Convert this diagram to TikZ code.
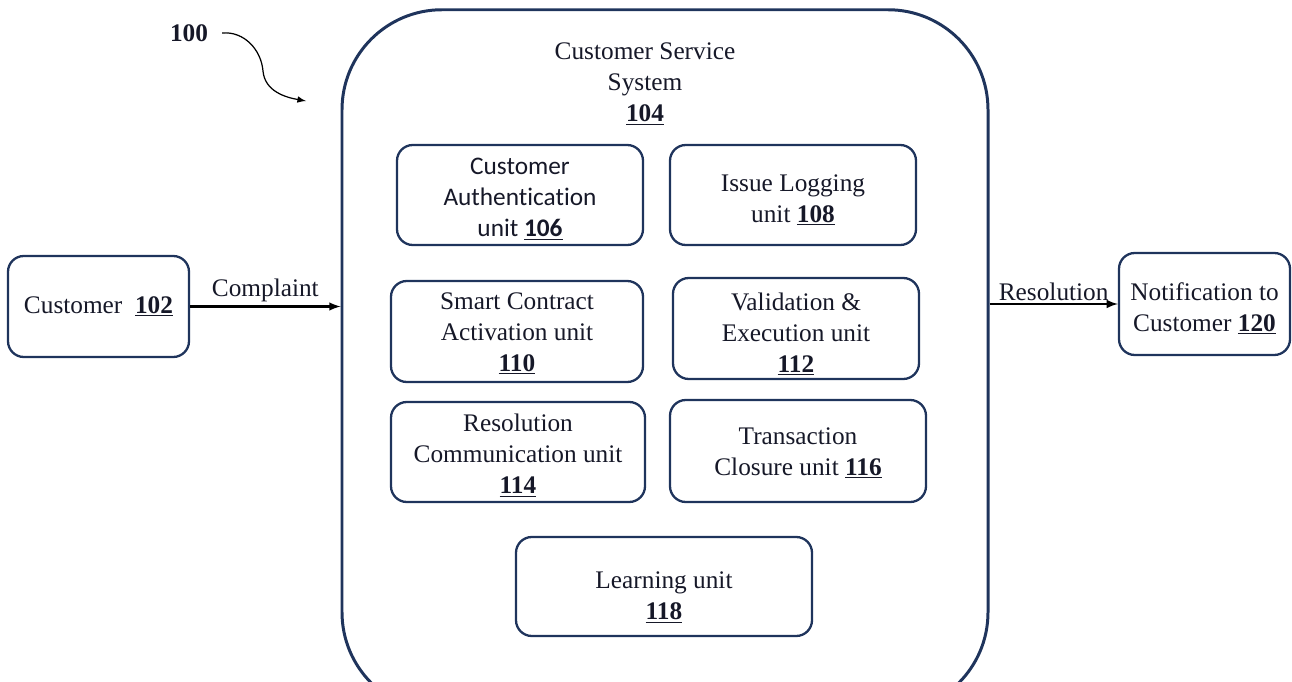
\documentclass[tikz,border=0pt]{standalone}
\usepackage{fontspec}
\setmainfont{Liberation Serif}
\newfontfamily\calibri[Ligatures=NoCommon]{Carlito}
\usepackage{tikz}
\definecolor{navy}{RGB}{31,52,92}
\definecolor{tinta}{RGB}{22,24,40}
\newcommand{\bajar}[1]{\rule{0pt}{#1}}

\begin{document}
\begin{tikzpicture}
\tikzset{unit/.style={draw=navy,line width=1.3pt,rounded corners=9pt,align=center,inner sep=0pt,text=tinta,font=\fontsize{14.4}{17.6}\selectfont}}
\useasboundingbox (0,0) rectangle (25.84,13.62);
\clip (0,0) rectangle (25.84,13.62);

% Sistema principal
\node (104) at (13.30,6.40) [unit,line width=1.7pt,rounded corners=2cm,minimum width=12.92cm,minimum height=14.05cm] {};
\node (titulo) at (12.90,11.94) [align=center,text=tinta,font=\fontsize{14.4}{17.6}\selectfont] {Customer Service\\System\\\underline{\textbf{104}}};
% Unidades
\node (106) at (10.40,9.72) [unit,minimum width=4.92cm,minimum height=2.00cm,font=\calibri\fontsize{14.4}{17.6}\selectfont] {\bajar{13.9pt}Customer\\Authentication\\unit \underline{\textbf{106}}};
\node (108) at (15.86,9.72) [unit,minimum width=4.92cm,minimum height=2.00cm] {\bajar{15.4pt}Issue Logging\\unit \underline{\textbf{108}}};
\node (110) at (10.34,6.99) [unit,minimum width=5.04cm,minimum height=2.02cm] {\bajar{12pt}Smart Contract\\Activation unit\\\underline{\textbf{110}}};
\node (112) at (15.92,7.05) [unit,minimum width=4.92cm,minimum height=2.02cm] {\bajar{16.6pt}Validation \&\\Execution unit\\\underline{\textbf{112}}};
\node (114) at (10.36,4.58) [unit,minimum width=5.08cm,minimum height=2.00cm] {\bajar{14.4pt}Resolution\\Communication unit\\\underline{\textbf{114}}};
\node (116) at (15.96,4.60) [unit,minimum width=5.12cm,minimum height=2.04cm] {\bajar{12pt}Transaction\\Closure unit \underline{\textbf{116}}};
\node (118) at (13.28,1.89) [unit,minimum width=5.92cm,minimum height=1.98cm] {\bajar{22.2pt}Learning unit\\\underline{\textbf{118}}};
% Entrada y salida
\node (102) at (1.97,7.49) [unit,minimum width=3.62cm,minimum height=2.02cm] {\raisebox{1.7pt}{Customer~~\underline{\textbf{102}}}};
\node (120) at (24.09,7.54) [unit,minimum width=3.42cm,minimum height=2.04cm] {\bajar{15.4pt}Notification to\\Customer \underline{\textbf{120}}};
% Etiqueta 100
\node (100) at (3.78,12.96) [text=tinta,font=\fontsize{14.4}{17.6}\selectfont\bfseries] {100};
\coordinate (flecha100) at (6.12,11.60);

\draw[-latex,line width=1.2pt] (102) -- (102 -| 104.west) node[midway,above=-1.5pt,text=tinta,font=\fontsize{14.4}{17.6}\selectfont] {Complaint};
\draw[-latex,line width=1.2pt] (104.east |- 120) -- (120) node[midway,above=-2pt,text=tinta,font=\fontsize{14.4}{17.6}\selectfont] {Resolution};
\draw[-latex,line width=0.7pt] (100.east) ++(0.16,0) to[out=5,in=95] (5.26,12.2) to[out=-85,in=170] (flecha100);

\end{tikzpicture}
\end{document}
